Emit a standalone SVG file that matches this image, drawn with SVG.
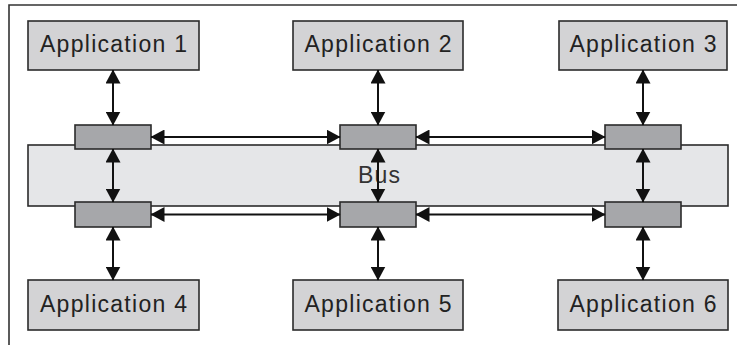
<svg xmlns="http://www.w3.org/2000/svg" width="737" height="345" viewBox="0 0 737 345">
  <defs>
    <marker id="head" viewBox="0 0 14 15" refX="13.5" refY="7.5" markerWidth="14" markerHeight="15" markerUnits="userSpaceOnUse" orient="auto-start-reverse">
      <path d="M0,0 L14,7.5 L0,15 z" fill="#111"/>
    </marker>
    <style>
      .app rect { fill: #d3d3d5; stroke: #2b2b2b; stroke-width: 1.6; }
      .app text { font-family: "Liberation Sans", Arial, sans-serif; font-size: 23px; fill: #222; text-anchor: middle; }
      .port rect { fill: #a6a7aa; stroke: #2b2b2b; stroke-width: 1.6; }
      .bus rect { fill: #e5e6e8; stroke: #2b2b2b; stroke-width: 1.6; }
      .bus text { font-family: "Liberation Sans", Arial, sans-serif; font-size: 23px; fill: #333; text-anchor: middle; }
      .link { stroke: #111; stroke-width: 2; fill: none; marker-start: url(#head); marker-end: url(#head); }
      .frame { stroke: #333; stroke-width: 1.6; fill: none; }
    </style>
  </defs>

  <rect width="737" height="345" fill="#fff"/>
  <!-- outer frame (top and left edges) -->
  <path class="frame" d="M9,345 V5 H737"/>

  <!-- bus -->
  <g id="bus" class="bus">
    <rect x="28" y="145" width="700" height="61"/>
    <text x="379" y="183" textLength="42" lengthAdjust="spacing">Bus</text>
  </g>

  <!-- bus ports -->
  <g id="port-top-1" class="port"><rect x="75" y="125" width="76" height="24"/></g>
  <g id="port-top-2" class="port"><rect x="340" y="125" width="76" height="24"/></g>
  <g id="port-top-3" class="port"><rect x="605" y="125" width="76" height="24"/></g>
  <g id="port-bottom-1" class="port"><rect x="75" y="202" width="76" height="25"/></g>
  <g id="port-bottom-2" class="port"><rect x="340" y="202" width="76" height="25"/></g>
  <g id="port-bottom-3" class="port"><rect x="605" y="202" width="76" height="25"/></g>

  <!-- applications -->
  <g id="app1" class="app">
    <rect x="28" y="21" width="171" height="49"/>
    <text x="113.5" y="52" textLength="147" lengthAdjust="spacing">Application 1</text>
  </g>
  <g id="app2" class="app">
    <rect x="293" y="21" width="170" height="49"/>
    <text x="378" y="52" textLength="147" lengthAdjust="spacing">Application 2</text>
  </g>
  <g id="app3" class="app">
    <rect x="559" y="21" width="168" height="49"/>
    <text x="643" y="52" textLength="147" lengthAdjust="spacing">Application 3</text>
  </g>
  <g id="app4" class="app">
    <rect x="28" y="280" width="171" height="50"/>
    <text x="113.5" y="312" textLength="147" lengthAdjust="spacing">Application 4</text>
  </g>
  <g id="app5" class="app">
    <rect x="293" y="280" width="170" height="50"/>
    <text x="378" y="312" textLength="147" lengthAdjust="spacing">Application 5</text>
  </g>
  <g id="app6" class="app">
    <rect x="558" y="280" width="170" height="50"/>
    <text x="643" y="312" textLength="147" lengthAdjust="spacing">Application 6</text>
  </g>

  <!-- connectors -->
  <g id="connectors">
    <!-- applications to top ports -->
    <line class="link" x1="113" y1="70" x2="113" y2="125"/>
    <line class="link" x1="378" y1="70" x2="378" y2="125"/>
    <line class="link" x1="643" y1="70" x2="643" y2="125"/>
    <!-- across the bus -->
    <line class="link" x1="113" y1="149" x2="113" y2="202"/>
    <line class="link" x1="378" y1="149" x2="378" y2="202"/>
    <line class="link" x1="643" y1="149" x2="643" y2="202"/>
    <!-- bottom ports to applications -->
    <line class="link" x1="113" y1="227" x2="113" y2="280"/>
    <line class="link" x1="378" y1="227" x2="378" y2="280"/>
    <line class="link" x1="643" y1="227" x2="643" y2="280"/>
    <!-- port to port, top row -->
    <line class="link" x1="151" y1="137" x2="340" y2="137"/>
    <line class="link" x1="416" y1="137" x2="605" y2="137"/>
    <!-- port to port, bottom row -->
    <line class="link" x1="151" y1="214.5" x2="340" y2="214.5"/>
    <line class="link" x1="416" y1="214.5" x2="605" y2="214.5"/>
  </g>
</svg>
